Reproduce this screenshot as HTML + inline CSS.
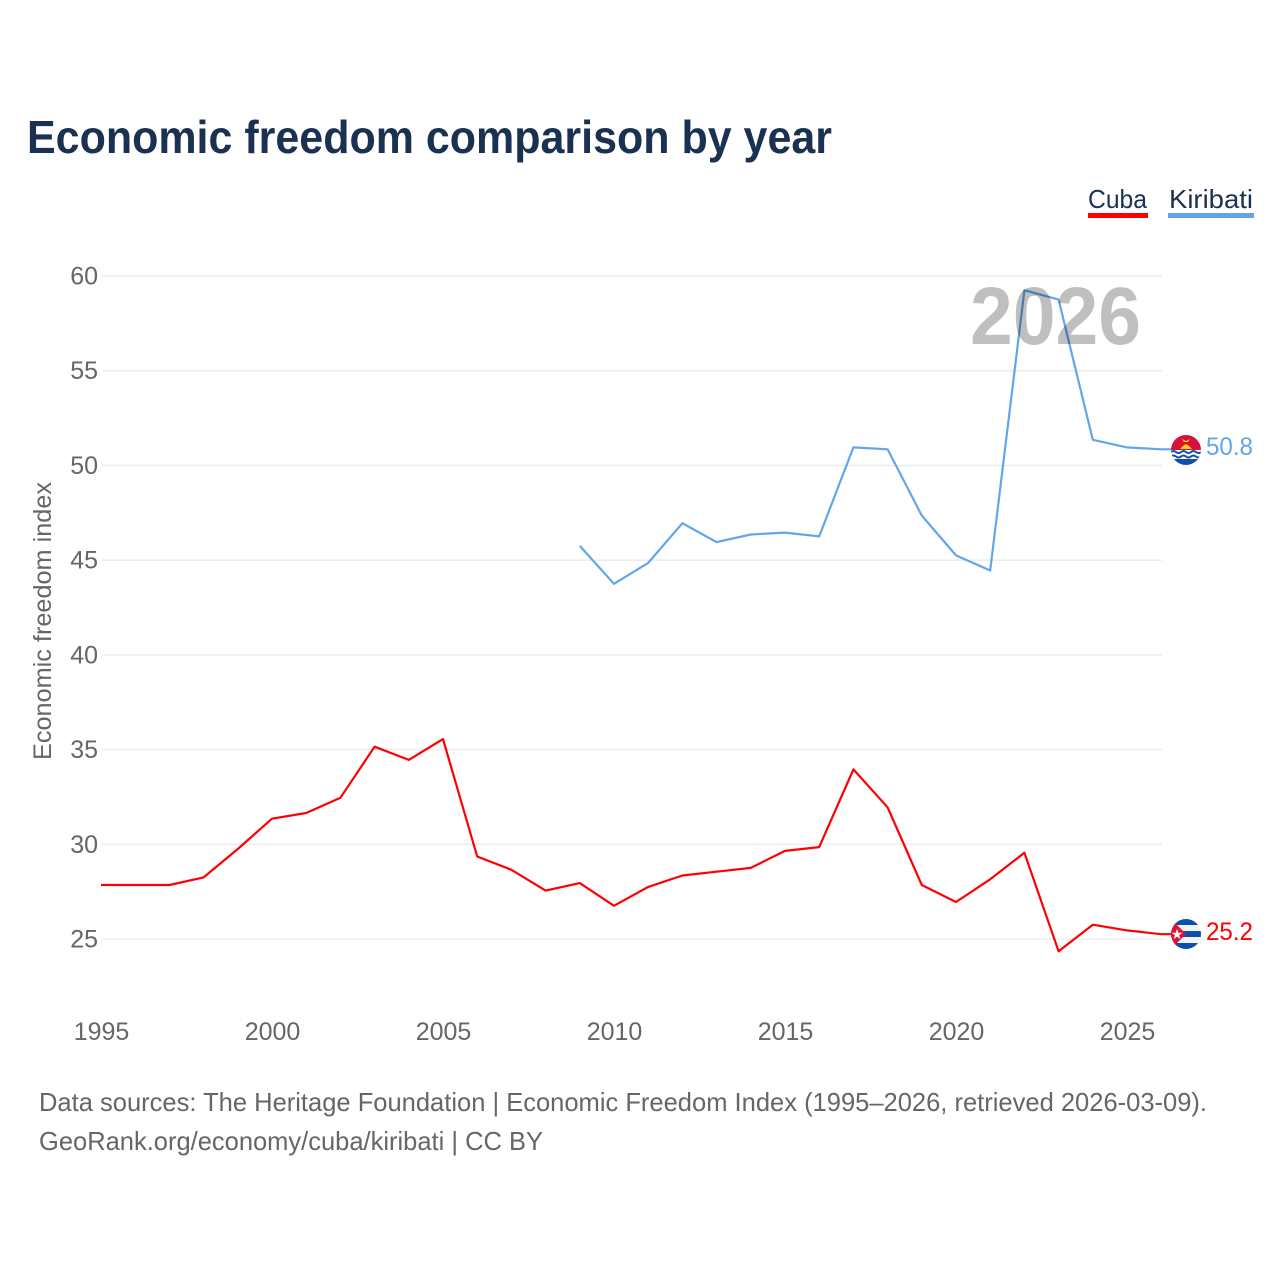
<!DOCTYPE html>
<html lang="en">
<head>
<meta charset="utf-8">
<title>Economic freedom comparison by year</title>
<style>
html,body{margin:0;padding:0;background:#fff;width:1280px;height:1280px;overflow:hidden}
svg{display:block;font-family:"Liberation Sans",sans-serif}
</style>
</head>
<body>
<svg id="chart" xmlns="http://www.w3.org/2000/svg" width="1280" height="1280" viewBox="0 0 1280 1280">
  <rect width="1280" height="1280" fill="#fff"/>
  <text x="27" y="153" font-size="46" font-weight="700" fill="#1a3152" textLength="805" lengthAdjust="spacingAndGlyphs">Economic freedom comparison by year</text>

  <g>
    <text x="1088" y="208" font-size="26" fill="#1a3152" textLength="59" lengthAdjust="spacingAndGlyphs">Cuba</text>
    <rect x="1088" y="213" width="60" height="5" fill="#ff0000"/>
  </g>
  <g>
    <text x="1169" y="208" font-size="26" fill="#1a3152" textLength="84" lengthAdjust="spacingAndGlyphs">Kiribati</text>
    <rect x="1168" y="213" width="86" height="5" fill="#62a6ea"/>
  </g>

  <g id="grid"></g>
  <g id="yTicks"></g>
  <g id="xTicks"></g>
  <text transform="translate(51,621) rotate(-90)" text-anchor="middle" font-size="25" fill="#666" textLength="278" lengthAdjust="spacingAndGlyphs">Economic freedom index</text>

  <g id="series"></g>

  <text x="970" y="344" font-size="82" font-weight="700" fill="#000" fill-opacity="0.25" textLength="171" lengthAdjust="spacingAndGlyphs">2026</text>

  <defs>
    <clipPath id="flagClipKi"><circle cx="1186" cy="450" r="15"/></clipPath>
    <clipPath id="flagClipCu"><circle cx="1186" cy="934" r="15"/></clipPath>
  </defs>
  <g id="flagKiribati" clip-path="url(#flagClipKi)">
    <rect x="1171" y="435" width="30" height="15" fill="#d9103c"/>
    <rect x="1171" y="450" width="30" height="15" fill="#fff"/>
    <path d="M1180 449 L1183 446 L1186 444 L1189 446 L1192 449 Z" fill="#fcd116"/>
    <path d="M1182 439 L1186 441 L1190 439 L1188 442 L1184 442 Z" fill="#fcd116"/>
    <path d="M1171 452 q2.5 -2 5 0 t5 0 t5 0 t5 0 t5 0 t5 0 M1171 456.500 q2.500 -2 5 0 t5 0 t5 0 t5 0 t5 0 t5 0" fill="none" stroke="#0f4fa8" stroke-width="2"/>
    <rect x="1171" y="459" width="30" height="6" fill="#0f4fa8"/>
  </g>
  <g id="flagCuba" clip-path="url(#flagClipCu)">
    <rect x="1171" y="919" width="30" height="30" fill="#f2f2f2"/>
    <rect x="1171" y="919" width="30" height="6" fill="#0a4fa8"/>
    <rect x="1171" y="931" width="30" height="6" fill="#0a4fa8"/>
    <rect x="1171" y="943" width="30" height="6" fill="#0a4fa8"/>
    <path d="M1171 919 L1186 934 L1171 949 Z" fill="#e0103a"/>
    <text x="1177" y="939" font-size="14" text-anchor="middle" fill="#fff">★</text>
  </g>

  <text x="1206" y="455" font-size="25" fill="#62a6ea" textLength="47" lengthAdjust="spacingAndGlyphs">50.8</text>
  <text x="1206" y="940" font-size="25" fill="#ff0000" textLength="47" lengthAdjust="spacingAndGlyphs">25.2</text>

  <text x="39" y="1111" font-size="26" fill="#666" textLength="1168" lengthAdjust="spacingAndGlyphs">Data sources: The Heritage Foundation | Economic Freedom Index (1995–2026, retrieved 2026-03-09).</text>
  <text x="39" y="1150" font-size="26" fill="#666" textLength="504" lengthAdjust="spacingAndGlyphs">GeoRank.org/economy/cuba/kiribati | CC BY</text>
</svg>
<script>
const cubaYears = [1995,1996,1997,1998,1999,2000,2001,2002,2003,2004,2005,2006,2007,2008,2009,2010,2011,2012,2013,2014,2015,2016,2017,2018,2019,2020,2021,2022,2023,2024,2025,2026];
const cubaValues = [27.8,27.8,27.8,28.2,29.7,31.3,31.6,32.4,35.1,34.4,35.5,29.3,28.6,27.5,27.9,26.7,27.7,28.3,28.5,28.7,29.6,29.8,33.9,31.9,27.8,26.9,28.1,29.5,24.3,25.7,25.4,25.2];
const kiribatiYears = [2009,2010,2011,2012,2013,2014,2015,2016,2017,2018,2019,2020,2021,2022,2023,2024,2025,2026];
const kiribatiValues = [45.7,43.7,44.8,46.9,45.9,46.3,46.4,46.2,50.9,50.8,47.3,45.2,44.4,59.2,58.7,51.3,50.9,50.8];
const yTickValues = [25,30,35,40,45,50,55,60];
const xTickValues = [1995,2000,2005,2010,2015,2020,2025];

const NS = 'http://www.w3.org/2000/svg';
const xScale = function (year) { return 102 + (year - 1995) * 34.2; };
const yScale = function (value) { return 939 - (value - 25) * (663 / 35); };
const LINE_DX = -1;
const LINE_DY = -1;

const grid = document.getElementById('grid');
const yTicks = document.getElementById('yTicks');
const xTicks = document.getElementById('xTicks');
const series = document.getElementById('series');

yTickValues.forEach(function (v) {
  const line = document.createElementNS(NS, 'line');
  
  
  line.setAttribute('x1', 102);
  line.setAttribute('x2', 1162);
  line.setAttribute('y1', yScale(v));
  line.setAttribute('y2', yScale(v));
  line.setAttribute('stroke', '#eeeeee');
  line.setAttribute('stroke-width', 1.6);
  grid.appendChild(line);

  const label = document.createElementNS(NS, 'text');
  
  
  label.setAttribute('x', 98);
  label.setAttribute('y', yScale(v) + 8.5);
  label.setAttribute('text-anchor', 'end');
  label.setAttribute('font-size', 25);
  label.setAttribute('fill', '#666');
  label.textContent = String(v);
  yTicks.appendChild(label);
});

xTickValues.forEach(function (v) {
  const label = document.createElementNS(NS, 'text');
  
  
  label.setAttribute('x', xScale(v) - 0.5);
  label.setAttribute('y', 1040);
  label.setAttribute('text-anchor', 'middle');
  label.setAttribute('font-size', 25);
  label.setAttribute('fill', '#666');
  label.textContent = String(v);
  xTicks.appendChild(label);
});

function drawSeries(years, values, color, name) {
  const pts = years.map(function (y, i) { return (xScale(y) + LINE_DX).toFixed(1) + ',' + (yScale(values[i]) + LINE_DY).toFixed(1); });
  const last = values.length - 1;
  pts.push((xScale(years[last]) + 9).toFixed(1) + ',' + (yScale(values[last]) + LINE_DY).toFixed(1));
  const line = document.createElementNS(NS, 'polyline');
  
  
  line.setAttribute('points', pts.join(' '));
  line.setAttribute('fill', 'none');
  line.setAttribute('stroke', color);
  line.setAttribute('stroke-width', 2.2);
  line.setAttribute('stroke-linejoin', 'round');
  series.appendChild(line);
}
drawSeries(cubaYears, cubaValues, '#ff0000', 'series-line-cuba');
drawSeries(kiribatiYears, kiribatiValues, '#62a6ea', 'series-line-kiribati');
</script>
</body>
</html>
